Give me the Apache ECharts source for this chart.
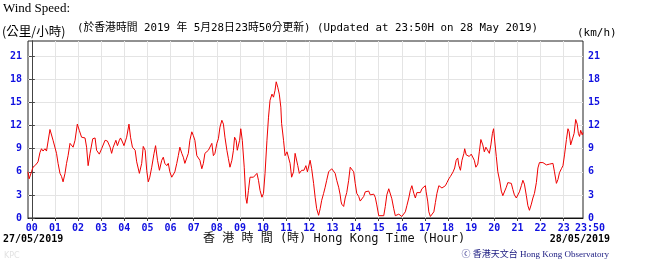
<!DOCTYPE html>
<html>
<head>
<meta charset="utf-8">
<script src="https://cdn.jsdelivr.net/npm/echarts@6/dist/echarts.min.js"></script>
<style>html,body{margin:0;padding:0;background:#fff;}#c{width:650px;height:271px;}</style>
</head>
<body>
<div id="c"></div>
<script>
// Time in minutes from 00:00 on 28/05/2019 (negative = previous day)
const times = [-10,-7,-1,3,10,16,21,25,29,34,38,42,47,51,55,64,68,73,77,81,86,90,94,99,103,107,112,118,123,129,138,142,146,151,158,164,168,175,181,190,196,203,207,211,218,222,227,230,234,239,246,252,256,261,268,272,279,285,289,294,298,302,306,311,317,321,326,331,337,341,345,350,354,358,363,367,371,376,380,384,389,393,397,402,406,410,415,419,423,428,432,436,441,445,449,454,458,462,467,471,475,480,484,488,493,497,501,506,510,514,519,523,526,530,533,539,542,546,551,555,558,562,566,571,575,579,584,588,592,597,601,605,610,614,618,623,627,631,634,638,642,646,648,653,657,662,666,670,674,679,683,686,690,694,700,706,711,715,722,726,731,735,739,744,748,752,757,761,765,770,778,787,791,796,800,802,804,809,813,817,822,826,830,835,839,843,848,852,856,861,865,869,874,878,882,887,891,895,900,904,913,917,921,926,930,934,939,943,947,952,956,960,965,969,973,978,982,986,991,995,999,1004,1008,1012,1017,1021,1023,1027,1030,1034,1038,1043,1047,1051,1056,1060,1064,1069,1073,1077,1082,1086,1089,1093,1097,1101,1105,1108,1112,1116,1121,1123,1127,1131,1135,1140,1144,1148,1152,1157,1161,1165,1170,1174,1178,1183,1187,1191,1195,1198,1201,1205,1209,1214,1218,1222,1227,1231,1235,1239,1244,1248,1252,1257,1261,1265,1270,1274,1278,1283,1287,1291,1296,1300,1304,1309,1313,1317,1322,1326,1330,1335,1339,1343,1348,1352,1356,1361,1365,1369,1374,1378,1382,1387,1391,1394,1398,1402,1407,1411,1415,1418,1421,1424,1428,1430];
const speeds = [6.0,5.1,6.0,6.6,6.9,7.3,8.5,9.0,8.7,9.0,8.7,8.7,11.5,11.3,10.1,8.4,7.1,5.8,5.4,4.7,5.8,7.1,8.1,9.7,9.5,9.2,10.1,12.2,11.4,10.5,10.4,9.2,6.8,8.4,10.3,10.4,8.8,8.3,9.0,10.1,10.0,9.2,8.4,9.2,10.1,9.4,10.1,10.4,10.0,9.4,10.5,12.2,10.5,9.2,8.8,7.3,5.8,7.1,9.3,8.8,6.2,4.7,5.3,6.6,8.4,9.4,7.5,6.2,7.5,7.9,7.1,6.8,7.1,6.0,5.3,5.3,6.0,7.1,8.1,9.2,8.4,7.9,7.1,7.1,8.4,10.1,11.2,10.7,10.1,8.1,8.1,7.5,6.4,7.1,8.4,8.4,8.8,9.0,9.7,8.1,8.4,9.7,10.3,11.8,12.7,12.2,10.5,8.8,7.7,6.6,7.5,8.8,10.5,10.1,8.8,10.1,11.6,10.1,6.6,2.7,1.9,3.6,5.3,5.1,5.3,5.2,5.8,4.9,3.6,2.7,3.2,5.8,10.1,13.1,15.3,16.1,15.7,16.6,17.7,17.0,16.1,14.4,12.3,10.1,8.1,8.6,8.4,7.1,5.3,6.0,8.4,8.6,6.8,5.8,6.2,6.2,6.8,6.0,7.5,6.4,4.5,2.7,1.2,0.35,1.2,2.3,3.2,4.0,4.9,6.0,6.4,5.8,4.9,4.0,3.0,2.2,1.8,1.5,2.6,3.3,4.9,6.6,6.7,6.0,4.5,3.2,2.8,2.2,2.4,2.8,3.4,3.6,3.5,3.0,2.8,3.1,2.7,1.7,0.3,0.3,0.3,1.5,3.0,3.8,3.8,2.5,1.2,0.3,0.3,0.5,0.5,0.2,0.2,0.8,1.6,2.6,3.6,4.2,3.2,2.6,3.3,3.5,3.3,3.8,3.9,4.2,3.4,2.2,0.8,0.2,0.2,0.8,2.0,3.2,4.2,4.2,3.9,4.1,4.2,4.6,5.1,5.4,5.2,6.0,6.5,7.5,7.8,6.8,6.2,7.5,8.4,9.0,8.2,8.1,8.0,8.3,8.5,7.5,6.6,7.0,8.6,10.2,9.5,8.6,9.2,9.1,8.4,9.5,11.0,11.6,10.0,8.0,6.0,4.8,3.5,2.9,3.0,4.0,4.6,4.5,4.5,3.7,3.0,2.6,2.7,3.4,4.2,4.9,4.4,2.9,1.6,1.0,1.8,2.6,3.2,4.6,6.5,7.2,7.3,7.2,7.0,6.9,6.8,7.0,7.2,7.1,6.0,4.5,5.0,5.9,6.4,6.8,8.2,10.2,11.6,11.2,9.5,9.3,11.0,12.8,12.2,11.0,10.6,11.4,10.8,11.1];
const hourTicks = [0,60,120,180,240,300,360,420,480,540,600,660,720,780,840,900,960,1020,1080,1140,1200,1260,1320,1380];
const hourLabels = ['00','01','02','03','04','05','06','07','08','09','10','11','12','13','14','15','16','17','18','19','20','21','22','23'];
const endTick = 1430, endLabel = '23:50';
const yTicks = [0,3,6,9,12,15,18,21];

const seriesData = times.map((t, i) => [t, speeds[i]]);

const blue = '#1010e0';
const mono = '"DejaVu Sans Mono", monospace';
const chart = echarts.init(document.getElementById('c'), null, {renderer: 'canvas'});

const yAxisCommon = {
  type: 'value', min: 0, max: 23, interval: 3,
  axisLine: {show: true, lineStyle: {color: '#444', width: 1}},
  axisTick: {show: true, length: 3, customValues: yTicks, lineStyle: {color: '#444'}},
  axisLabel: {customValues: yTicks, color: blue, fontFamily: mono, fontWeight: 'bold', fontSize: 10},
  splitLine: {show: false}
};
const xLabelStyle = {color: blue, fontFamily: mono, fontWeight: 'bold', fontSize: 10, margin: 5};

chart.setOption({
  animation: false,
  backgroundColor: '#fff',
  grid: {left: 28, right: 67, top: 41, bottom: 53, show: true, borderColor: '#222', borderWidth: 1, backgroundColor: 'transparent'},
  xAxis: [{
    type: 'value', min: -10, max: 1430,
    axisLine: {show: true, onZero: false, lineStyle: {color: '#111'}},
    axisTick: {show: true, length: 3, customValues: hourTicks, lineStyle: {color: '#444'}},
    axisLabel: Object.assign({customValues: hourTicks, interval: 0, hideOverlap: false,
      formatter: v => { const i = hourTicks.indexOf(v); return i >= 0 ? hourLabels[i] : ''; }}, xLabelStyle),
    splitLine: {show: true, lineStyle: {color: '#e4e4e4', width: 1}}
  }, {
    type: 'value', min: -10, max: 1430, position: 'bottom',
    axisLine: {show: false}, axisTick: {show: false}, splitLine: {show: false},
    axisLabel: Object.assign({customValues: [endTick], showMaxLabel: true,
      formatter: v => v === endTick ? '{e|' + endLabel + '}' : '',
      rich: {e: {color: blue, fontFamily: mono, fontWeight: 'bold', fontSize: 10, padding: [0, 0, 0, 14]}}}, xLabelStyle)
  }],
  yAxis: [
    Object.assign({}, yAxisCommon, {position: 'left', axisLabel: Object.assign({}, yAxisCommon.axisLabel, {margin: 6}),
      splitLine: {show: true, lineStyle: {color: '#e4e4e4', width: 1}}}),
    Object.assign({}, yAxisCommon, {position: 'right', axisLabel: Object.assign({}, yAxisCommon.axisLabel, {margin: 5})})
  ],
  series: [{
    type: 'line', data: seriesData, showSymbol: false, symbol: 'none',
    lineStyle: {color: '#ee0000', width: 1}, z: 5
  }],
  graphic: [
    {type: 'text', left: 3, top: 2, style: {text: 'Wind Speed:', font: '13px "Liberation Serif", serif', fill: '#000'}},
    {type: 'text', left: 2, top: 25, style: {text: '(公里/小時)', font: '12.5px "Noto Sans CJK TC", sans-serif', fill: '#000'}},
    {type: 'text', left: 77, top: 23, style: {text: '(於香港時間 2019 年 5月28日23時50分更新) (Updated at 23:50H on 28 May 2019)', font: '10.8px "DejaVu Sans Mono", "Noto Sans CJK TC", monospace', fill: '#000'}},
    {type: 'text', left: 577, top: 28, style: {text: '(km/h)', font: '11px "DejaVu Sans Mono", monospace', fill: '#000'}},
    {type: 'text', left: 3, top: 234, style: {text: '27/05/2019', font: 'bold 10px "DejaVu Sans Mono", monospace', fill: '#000'}},
    {type: 'text', right: 40, top: 234, style: {text: '28/05/2019', font: 'bold 10px "DejaVu Sans Mono", monospace', fill: '#000'}},
    {type: 'text', left: 203, top: 233, style: {text: '香 港 時 間 (時) Hong Kong Time (Hour)', font: '12px "DejaVu Sans Mono", "Noto Sans CJK TC", monospace', fill: '#111'}},
    {type: 'text', right: 41, top: 250, style: {text: 'ⓒ 香港天文台 Hong Kong Observatory', font: '9px "Liberation Serif", "Noto Sans CJK TC", serif', fill: '#1a1a80'}},
    {type: 'text', left: 4, top: 252, style: {text: 'KPC', font: '8px "DejaVu Sans", sans-serif', fill: '#e2e2e2'}}
  ]
});
</script>
</body>
</html>
